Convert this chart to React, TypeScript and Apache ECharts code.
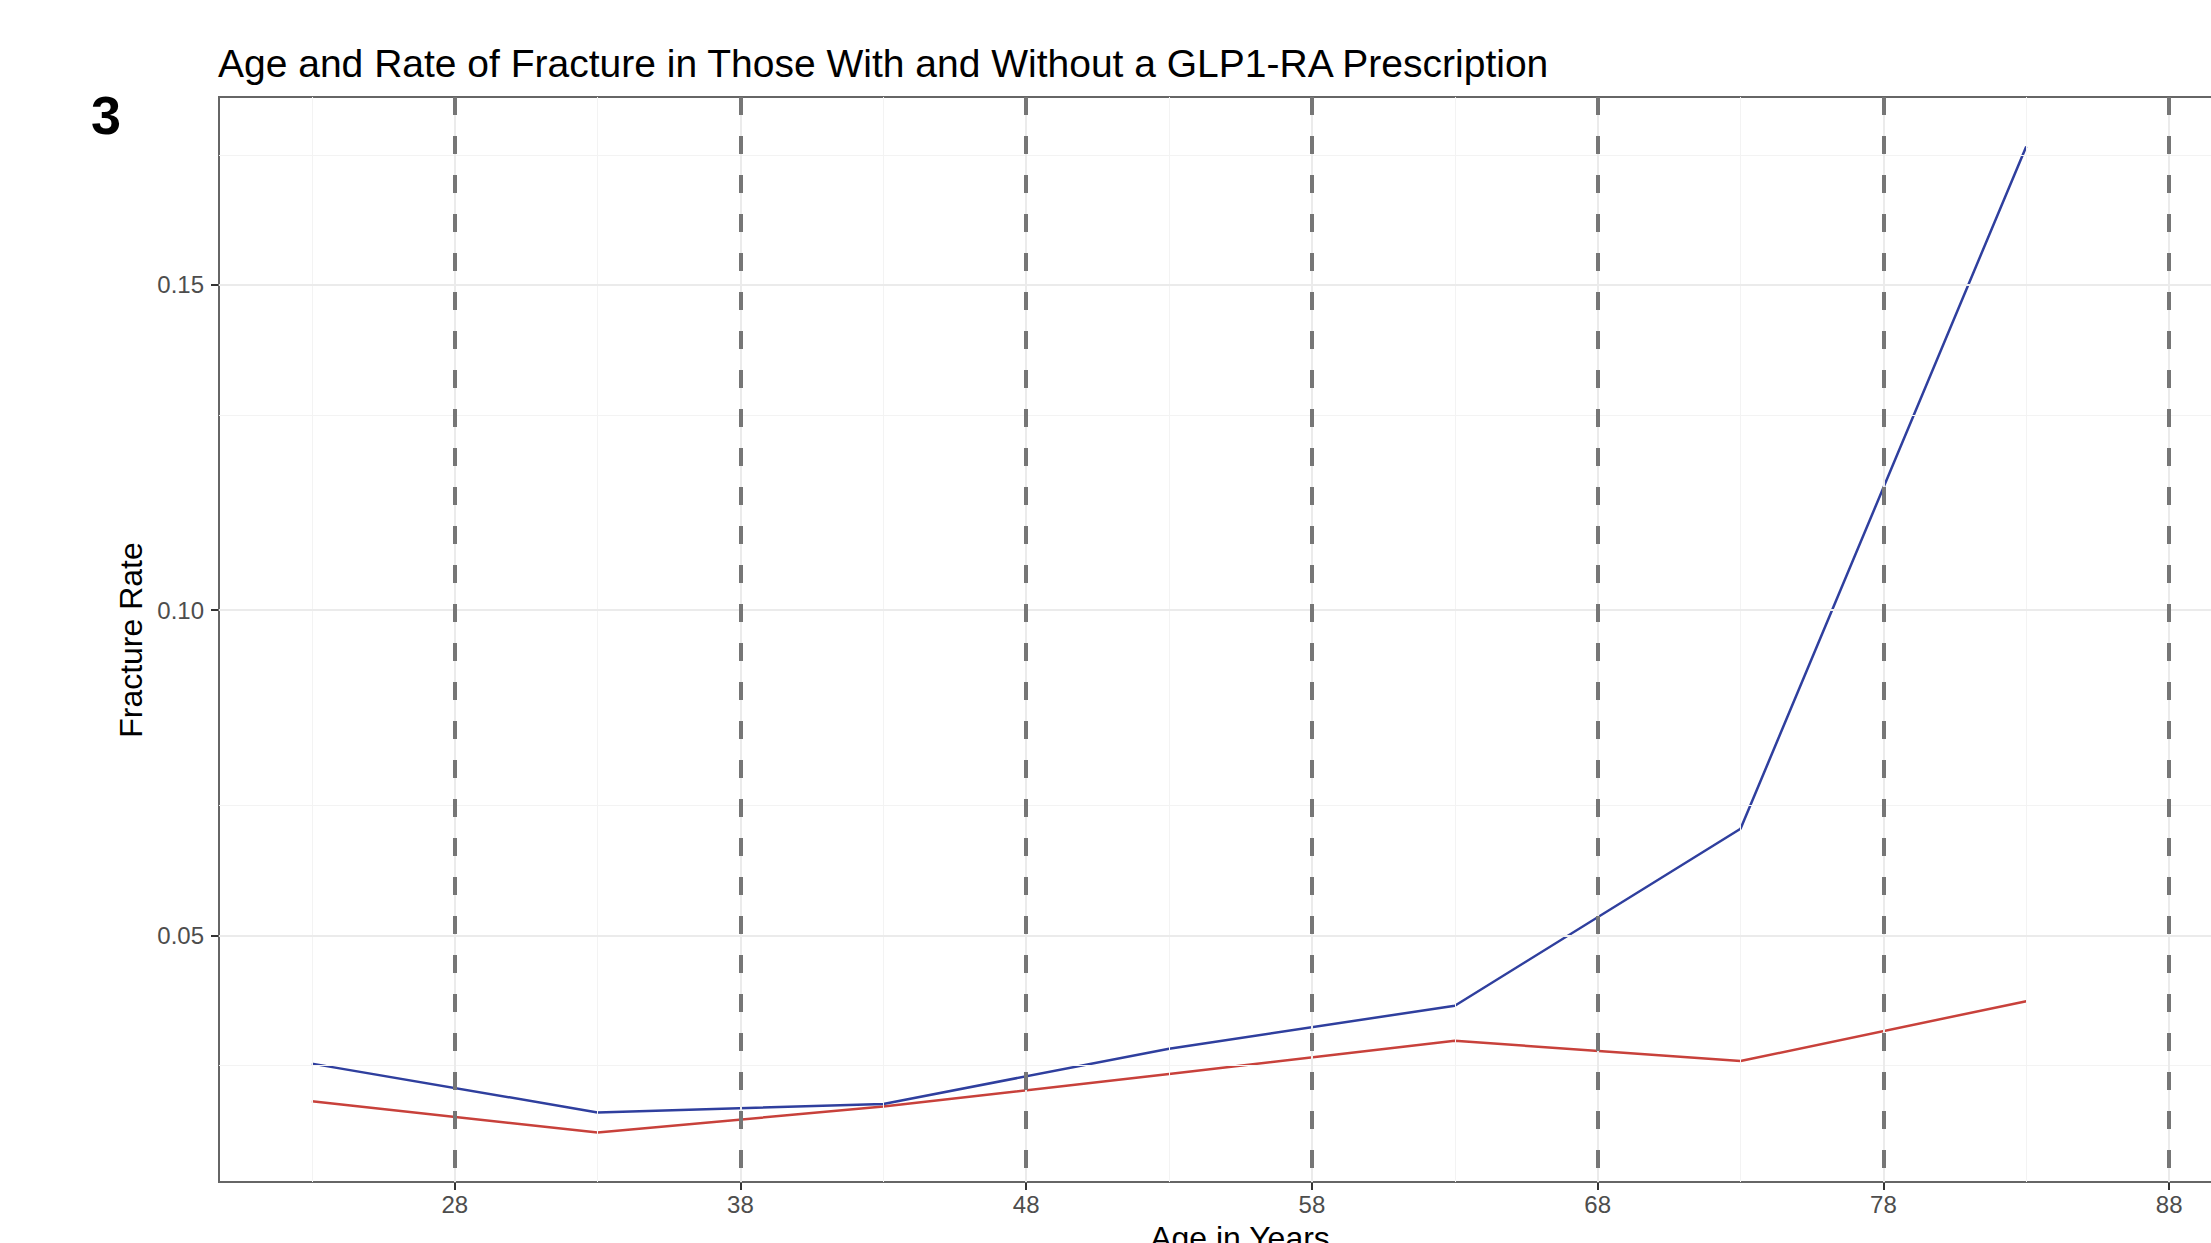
import React, { useEffect, useRef } from "react";
import * as echarts from "echarts";

// ---- data ----
const ages = [23, 33, 43, 53, 63, 73, 83];
const rateBlue = [0.0303, 0.0228, 0.0241, 0.0326, 0.0392, 0.0664, 0.1713];
const rateRed = [0.0245, 0.0197, 0.0237, 0.0287, 0.0338, 0.0307, 0.0399];
const vlineAges = [28, 38, 48, 58, 68, 78, 88];
const xTickValues = [28, 38, 48, 58, 68, 78, 88];
const xMinorValues = [23, 33, 43, 53, 63, 73, 83];
const yTickValues = [0.05, 0.1, 0.15];
const yMinorValues = [0.025, 0.075, 0.125, 0.175];
const xRange = [19.75, 91.25];
const yRange = [0.0121, 0.1789];

const titleText = "Age and Rate of Fracture in Those With and Without a GLP1-RA Prescription";
const panelTag = "3";
const xTitle = "Age in Years";
const yTitle = "Fracture Rate";

const FONT = "'Liberation Sans', Arial, Helvetica, sans-serif";

export default function App() {
  const ref = useRef<HTMLDivElement>(null);

  useEffect(() => {
    document.body.style.margin = "0";
    const chart = echarts.init(ref.current!, null, { renderer: "svg" });

    const gridLines = {
      type: "line",
      data: [],
      silent: true,
      z: 1,
      markLine: {
        silent: true,
        symbol: ["none", "none"],
        label: { show: false },
        animation: false,
        data: [
          ...yMinorValues.map((v) => ({ yAxis: v, lineStyle: { color: "#F3F3F3", width: 1, type: "solid" } })),
          ...xMinorValues.map((v) => ({ xAxis: v, lineStyle: { color: "#F3F3F3", width: 1, type: "solid" } })),
          ...yTickValues.map((v) => ({ yAxis: v, lineStyle: { color: "#EBEBEB", width: 2, type: "solid" } })),
          ...xTickValues.map((v) => ({ xAxis: v, lineStyle: { color: "#EBEBEB", width: 2, type: "solid" } })),
        ],
      },
    };

    const vlines = {
      type: "line",
      data: [],
      silent: true,
      z: 2,
      markLine: {
        silent: true,
        symbol: ["none", "none"],
        label: { show: false },
        animation: false,
        lineStyle: { color: "#767676", width: 4, type: [18, 21] },
        data: vlineAges.map((v) => [{ coord: [v, yRange[1]] }, { coord: [v, yRange[0]] }]),
      },
    };

    const option = {
      animation: false,
      backgroundColor: "#ffffff",
      grid: {
        left: 219,
        top: 97,
        right: 38,
        bottom: 61,
        show: true,
        borderColor: "#666666",
        borderWidth: 2,
        backgroundColor: "transparent",
        z: 5,
      },
      xAxis: {
        type: "value",
        min: xRange[0],
        max: xRange[1],
        axisLine: { show: false },
        splitLine: { show: false },
        axisTick: { show: true, length: 8, lineStyle: { color: "#333333", width: 2 }, customValues: xTickValues },
        axisLabel: {
          customValues: xTickValues,
          color: "#4D4D4D",
          fontSize: 24,
          fontFamily: FONT,
          margin: 10,
        },
      },
      yAxis: {
        type: "value",
        min: yRange[0],
        max: yRange[1],
        axisLine: { show: false },
        splitLine: { show: false },
        axisTick: { show: true, length: 8, lineStyle: { color: "#333333", width: 2 }, customValues: yTickValues },
        axisLabel: {
          customValues: yTickValues,
          color: "#4D4D4D",
          fontSize: 24,
          fontFamily: FONT,
          margin: 15,
          formatter: (v: number) => v.toFixed(2),
        },
      },
      series: [
        gridLines,
        vlines,
        {
          name: "Red",
          type: "line",
          z: 3,
          symbol: "none",
          data: ages.map((a, i) => [a, rateRed[i]]),
          lineStyle: { color: "#C8413B", width: 2.5 },
        },
        {
          name: "Blue",
          type: "line",
          z: 4,
          symbol: "none",
          data: ages.map((a, i) => [a, rateBlue[i]]),
          lineStyle: { color: "#2F3F9E", width: 2.5 },
        },
      ],
      graphic: [
        {
          type: "text",
          x: 218,
          y: 63,
          style: { text: titleText, fontSize: 39, fontFamily: FONT, fill: "#000000", textAlign: "left", textVerticalAlign: "middle" },
        },
        {
          type: "text",
          x: 106,
          y: 115,
          style: { text: panelTag, fontSize: 54, fontWeight: "bold", fontFamily: FONT, fill: "#000000", textAlign: "center", textVerticalAlign: "middle" },
        },
        {
          type: "text",
          x: 131,
          y: 640,
          rotation: Math.PI / 2,
          style: { text: yTitle, fontSize: 32, fontFamily: FONT, fill: "#000000", textAlign: "center", textVerticalAlign: "middle" },
        },
        {
          type: "text",
          x: 1240,
          y: 1238,
          style: { text: xTitle, fontSize: 32, fontFamily: FONT, fill: "#000000", textAlign: "center", textVerticalAlign: "middle" },
        },
      ],
    };

    chart.setOption(option as any);
    return () => chart.dispose();
  }, []);

  return (
    <div style={{ position: "fixed", left: 0, top: 0, width: 2211, height: 1243, overflow: "hidden", background: "#fff" }}>
      <div ref={ref} style={{ width: 2300, height: 1243 }} />
    </div>
  );
}
